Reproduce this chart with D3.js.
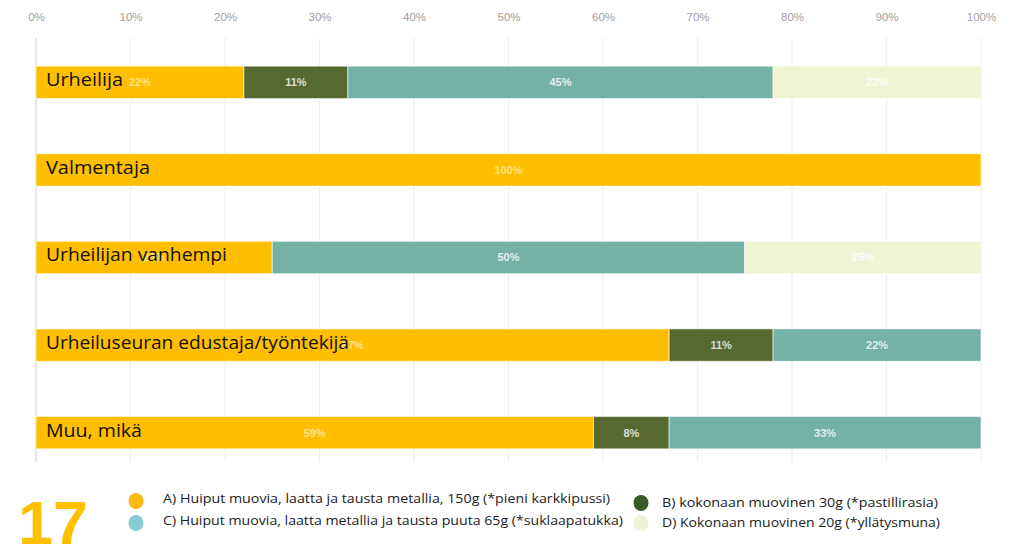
<!DOCTYPE html>
<html><head><meta charset="utf-8">
<script src="https://cdn.jsdelivr.net/npm/d3@7"></script>
<style>body{margin:0;background:#fff}svg{display:block}</style>
</head><body>
<svg id="c" width="1012" height="544"></svg>
<script>
const categories = ["Urheilija","Valmentaja","Urheilijan vanhempi","Urheiluseuran edustaja/työntekijä","Muu, mikä"];
const seriesKeys = ["A","B","C","D"];
const valuesA = [22,100,25,67,59];
const valuesB = [11,0,0,11,8];
const valuesC = [45,0,50,22,33];
const valuesD = [22,0,25,0,0];
const tickValues = [0,10,20,30,40,50,60,70,80,90,100];
const legendLabels = [
  "A) Huiput muovia, laatta ja tausta metallia, 150g (*pieni karkkipussi)",
  "B) kokonaan muovinen 30g (*pastillirasia)",
  "C) Huiput muovia, laatta metallia ja tausta puuta 65g (*suklaapatukka)",
  "D) Kokonaan muovinen  20g (*yllätysmuna)"
];
const pageNumber = "17";

const barColors = {A:"#FFBE00",B:"#556930",C:"#76B1A6",D:"#F0F4D3"};
const legendColors = {A:"#FDB913",B:"#3B5A26",C:"#86CDD3",D:"#EEF0D8"};

const svg = d3.select("#c");
const x = d3.scaleLinear().domain([0,100]).range([36,981]);
const y = d3.scaleBand().domain(categories).range([39,476]).paddingInner(0.63).paddingOuter(0.31);

const data = categories.map((c,i)=>({cat:c,A:valuesA[i],B:valuesB[i],C:valuesC[i],D:valuesD[i]}));
const stacked = d3.stack().keys(seriesKeys)(data);

// gridlines
svg.append("g").selectAll("line").data(tickValues).join("line")
  .attr("x1",d=>x(d)).attr("x2",d=>x(d)).attr("y1",38).attr("y2",462)
  .attr("stroke",d=>d===0?"#E2E8F1":"#EEEEEE").attr("stroke-width",d=>d===0?2:1.2);

// top axis
const axis = d3.axisTop(x).tickValues(tickValues).tickFormat(d=>d+"%").tickSize(0).tickPadding(0);
const ag = svg.append("g").attr("transform","translate(0,17)").call(axis);
ag.select(".domain").remove();
ag.selectAll("text").attr("fill","#A0A0A0").attr("font-family","Liberation Sans, Arial, sans-serif").attr("font-size",11.5).attr("dy","0.35em");

// bars
const layers = svg.append("g").selectAll("g").data(stacked).join("g").attr("fill",d=>barColors[d.key]);
layers.selectAll("rect").data(d=>d.filter(s=>s[1]-s[0]>0)).join("rect")
  .attr("x",d=>x(d[0])).attr("width",d=>x(d[1])-x(d[0]))
  .attr("y",d=>y(d.data.cat)).attr("height",y.bandwidth())
  .attr("stroke","#fff").attr("stroke-opacity",0.6).attr("stroke-width",1);

// value labels
const lbl = svg.append("g");
stacked.forEach(layer=>{
  layer.forEach(s=>{
    const v = s[1]-s[0];
    if(v<=0) return;
    lbl.append("text")
      .attr("x",(x(s[0])+x(s[1]))/2).attr("y",y(s.data.cat)+y.bandwidth()/2)
      .attr("dy","0.35em").attr("text-anchor","middle")
      .attr("font-family","Liberation Sans, Arial, sans-serif").attr("font-size",11).attr("font-weight","bold")
      .attr("fill","#fff").attr("fill-opacity", layer.key==="A"?0.55:(layer.key==="D"?0.9:0.8))
      .text(v+"%");
  });
});

// category labels
const targets = {"Urheilija":77,"Valmentaja":104,"Urheilijan vanhempi":181,"Urheiluseuran edustaja/työntekijä":303,"Muu, mikä":96};
svg.append("g").selectAll("text").data(categories).join("text")
  .attr("x",46).attr("y",d=>y(d)+y.bandwidth()/2)
  .attr("dy","0.22em")
  .attr("font-family","Open Sans, Liberation Sans, sans-serif").attr("font-size",17.5)
  .attr("fill","#111").text(d=>d)
  .attr("textLength",d=>targets[d]).attr("lengthAdjust","spacingAndGlyphs");

// page number
svg.append("text").attr("x",18).attr("y",544).attr("font-family","Liberation Sans, Arial, sans-serif")
  .attr("font-weight","bold").attr("font-size",62).attr("fill","#FFC000").text(pageNumber)
  .attr("textLength",70).attr("lengthAdjust","spacingAndGlyphs");

// legend
const legendPos = [
  {k:"A",cx:136,cy:501,tx:163,ty:503,w:447},
  {k:"B",cx:641,cy:503,tx:662,ty:507,w:276},
  {k:"C",cx:136,cy:523,tx:163,ty:525,w:460},
  {k:"D",cx:641,cy:523,tx:662,ty:527,w:278}
];
const lg = svg.append("g");
legendPos.forEach(p=>{
  const idx = seriesKeys.indexOf(p.k);
  lg.append("ellipse").attr("cx",p.cx).attr("cy",p.cy).attr("rx",7.5).attr("ry",8).attr("fill",legendColors[p.k]);
  lg.append("text").attr("x",p.tx).attr("y",p.ty)
    .attr("font-family","Liberation Sans Narrow, Open Sans, sans-serif").attr("font-size",13)
    .attr("fill","#222").text(legendLabels[idx])
    .attr("textLength",p.w).attr("lengthAdjust","spacingAndGlyphs");
});
</script>
</body></html>
